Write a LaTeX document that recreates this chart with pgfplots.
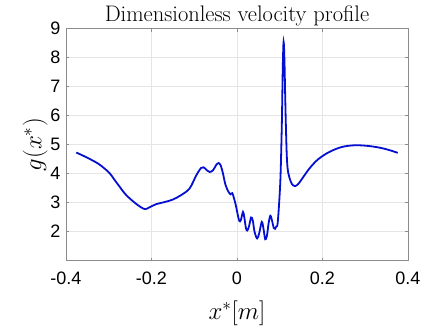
\documentclass[border=0pt]{standalone}
\usepackage{fontspec}
\setsansfont{Liberation Sans}
\usepackage{pgfplots}
\pgfplotsset{compat=1.18}
\definecolor{lineblue}{RGB}{5,15,210}
\definecolor{boxgray}{RGB}{140,140,140}
\begin{document}
\begin{tikzpicture}
\begin{axis}[
  scale only axis,
  width=342pt, height=232pt,
  xmin=-0.4, xmax=0.4, ymin=1, ymax=9,
  xtick={-0.4,-0.2,0,0.2,0.4},
  xticklabels={-0.4,-0.2,0,0.2,0.4},
  ytick={2,3,4,5,6,7,8,9},
  yticklabels={2,3,4,5,6,7,8,9},
  tick align=inside,
  major tick length=3pt,
  axis line style={boxgray, line width=0.6pt},
  tick style={boxgray, line width=0.6pt},
  grid=major,
  major grid style={line width=0.5pt, draw=black!10},
  ticklabel style={font=\fontsize{18}{20}\selectfont\sffamily},
  xticklabel style={yshift=-8pt},
  yticklabel style={xshift=-2pt},
  title={\fontsize{22.5}{25}\selectfont Dimensionless velocity profile},
  title style={yshift=-7pt},
  xlabel={\fontsize{27}{29}\selectfont $x^{*}[m]$},
  ylabel={\fontsize{27}{29}\selectfont $g(x^{*})$},
  xlabel style={yshift=-9pt},
  ylabel style={yshift=-4pt},
]
\addplot[lineblue, line width=1.8pt, smooth, tension=0.55] coordinates {
(-0.376,4.73) (-0.35,4.55) (-0.325,4.35) (-0.310,4.18) (-0.298,4.02) (-0.287,3.80)
(-0.272,3.50) (-0.259,3.26) (-0.235,2.95) (-0.216,2.78) (-0.205,2.84) (-0.189,2.95)
(-0.170,3.02) (-0.150,3.11) (-0.131,3.26) (-0.111,3.49) (-0.095,3.95) (-0.084,4.20)
(-0.078,4.22) (-0.072,4.14) (-0.064,4.06) (-0.056,4.12) (-0.048,4.32) (-0.043,4.37) (-0.038,4.28)
(-0.033,4.02) (-0.027,3.62) (-0.020,3.38)
(-0.015,3.29) (-0.011,3.33) (-0.006,3.10) (-0.002,2.86) (0.003,2.50) (0.006,2.36) (0.009,2.40) (0.014,2.68)
(0.017,2.50) (0.021,2.12) (0.024,2.04) (0.028,2.18) (0.033,2.49) (0.037,2.38) (0.041,2.00) (0.047,1.77) (0.052,1.95)
(0.058,2.34) (0.062,2.10) (0.066,1.74) (0.070,1.86) (0.074,2.30)
(0.078,2.55) (0.082,2.38) (0.086,2.13) (0.089,2.10) (0.092,2.18) (0.095,2.28) (0.099,3.09) (0.102,4.00)
(0.105,5.8) (0.107,7.6) (0.109,8.55) (0.111,7.9) (0.113,6.5) (0.115,5.3) (0.117,4.45) (0.120,4.02)
(0.126,3.72) (0.131,3.60) (0.136,3.57) (0.143,3.64) (0.150,3.78) (0.170,4.19) (0.190,4.50)
(0.216,4.75) (0.245,4.92) (0.275,4.98) (0.305,4.96) (0.333,4.90)
(0.355,4.82) (0.376,4.72)
};
\end{axis}
\pgfresetboundingbox
\path (-66pt,-71.5pt) rectangle (359pt,260.7pt);
\end{tikzpicture}
\end{document}
